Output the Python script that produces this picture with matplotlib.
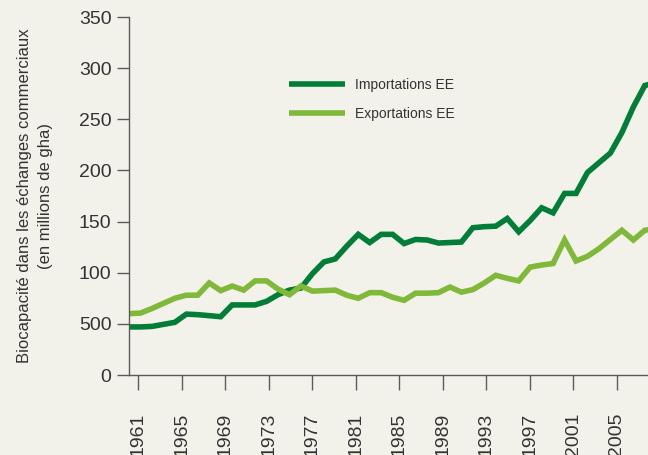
import numpy as np
import matplotlib
matplotlib.use('Agg')
import matplotlib.pyplot as plt

plt.rcParams['font.family'] = ['Liberation Sans', 'DejaVu Sans']

# ===== 数据 =====
years = list(range(1961, 2008))
imports = [47, 47, 47.5, 49.5, 51.5, 59.5, 59, 58, 57, 68.5,
           68.5, 68.5, 72, 78.5, 83, 85, 99, 110.5, 113.5, 126,
           137.5, 129.5, 137.5, 137.5, 128.5, 132.5, 132, 129, 129.5, 130,
           144, 145, 145.5, 153, 140, 151, 163.5, 158.5, 177.5, 177.5,
           198, 207.5, 217, 237, 262, 283, 286]
exports = [60, 60.5, 65, 70, 75, 78, 78, 90, 82.5, 87,
           83, 92, 92, 84, 78.5, 87, 82, 82.5, 83, 78,
           75, 80.5, 80.5, 76, 73, 80, 80, 80.5, 86, 81,
           83.5, 90, 97.5, 94.5, 92, 105.5, 107.5, 109, 132, 111.5,
           116, 123.5, 132.5, 141.5, 132, 141.5, 143]
xtick_labels = ['1961', '1965', '1969', '1973', '1977', '1981',
                '1985', '1989', '1993', '1997', '2001', '2005']
ytick_values = [0, 50, 100, 150, 200, 250, 300, 350]
ytick_labels = ['0', '500', '100', '150', '200', '250', '300', '350']

BG = '#f3f2ea'
DARK = '#007d36'
LIGHT = '#80b83a'
AXC = '#5a5a5a'
TXT = '#333333'

fig = plt.figure(figsize=(6.48, 4.55), dpi=100, facecolor=BG)
ax = fig.add_axes([129 / 648, 80 / 455, 1 - 129 / 648, 358 / 455])
ax.set_facecolor(BG)

ax.plot(years, imports, color=DARK, lw=4, label='Importations EE',
        solid_joinstyle='miter', solid_capstyle='butt')
ax.plot(years, exports, color=LIGHT, lw=4, label='Exportations EE',
        solid_joinstyle='miter', solid_capstyle='butt')

ax.set_xlim(1961, 1961 + 518 / 11.44)
ax.set_ylim(0, 350)

for s in ['top', 'right']:
    ax.spines[s].set_visible(False)
for s in ['left', 'bottom']:
    ax.spines[s].set_color(AXC)
    ax.spines[s].set_linewidth(1)

ax.set_yticks(ytick_values)
ax.set_yticklabels(ytick_labels)
ax.set_xticks(np.linspace(1961.8, 2003.55, len(xtick_labels)))
ax.set_xticklabels(xtick_labels, rotation=90)
ax.tick_params(axis='y', length=8.6, width=1, color=AXC, pad=4,
               labelsize=14, labelcolor=TXT)
ax.tick_params(axis='x', length=11, width=1, color=AXC, pad=16,
               labelsize=14, labelcolor=TXT)

ax.legend(loc='upper left', bbox_to_anchor=(289 / 648, 1 - 78 / 455),
          bbox_transform=fig.transFigure, frameon=False, fontsize=10,
          handlelength=4.0, handletextpad=0.75, labelspacing=1.05,
          borderpad=0, borderaxespad=0, labelcolor=TXT)

fig.text(35 / 648, 1 - 196 / 455,
         'Biocapacité dans les échanges commerciaux\n(en millions de gha)',
         rotation=90, ha='center', va='center', fontsize=12,
         linespacing=1.45, color=TXT, multialignment='center')

fig.savefig('out.png', dpi=100, facecolor=BG)
